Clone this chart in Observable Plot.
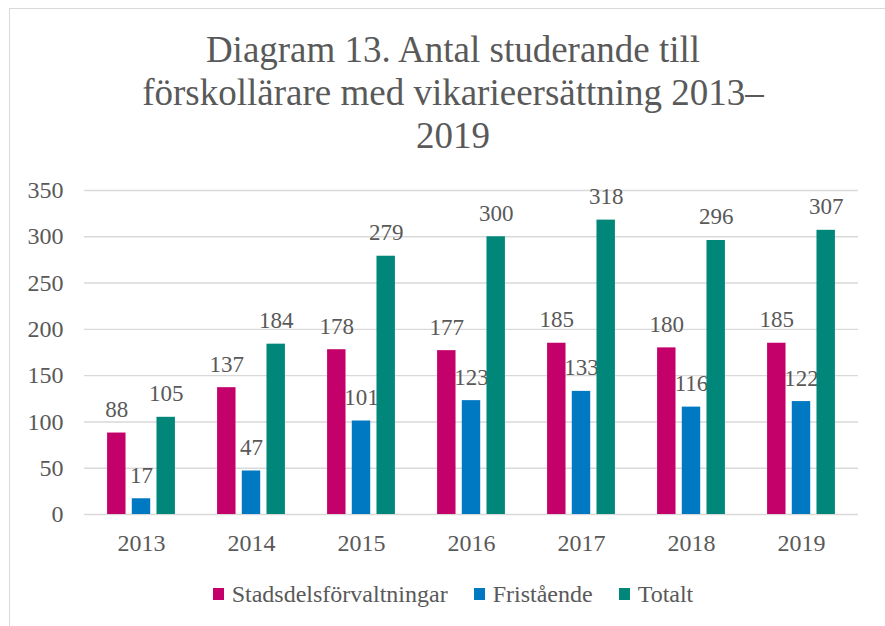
<!DOCTYPE html>
<html>
<head>
<meta charset="utf-8">
<script src="https://cdn.jsdelivr.net/npm/d3@7"></script>
<script src="https://cdn.jsdelivr.net/npm/@observablehq/plot@0.6"></script>
<style>
  html, body { margin: 0; padding: 0; background: #fff; }
  body { width: 885px; height: 626px; position: relative; overflow: hidden; color: #595959; font-family: 'Liberation Serif', serif; }
  #frame { position: absolute; left: 9px; top: 8px; width: 900px; height: 640px; border: 1px solid #D9D9D9; box-sizing: border-box; }
  #chart { position: absolute; left: 0; top: 0; }
  #title { position: absolute; left: 9px; width: 888px; top: 28px; text-align: center; font-size: 37px; line-height: 43px; color: #595959; }
  #legend { position: absolute; left: 9px; width: 888px; top: 580px; height: 28px; display: flex; justify-content: center; align-items: center; font-size: 24px; color: #595959; }
  .item { display: flex; align-items: center; margin: 0 13px; }
  .sw { width: 11px; height: 12px; margin-right: 8px; }
</style>
</head>
<body>
<div id="frame"></div>
<div id="chart"></div>
<div id="title">Diagram 13. Antal studerande till<br>förskollärare med vikarieersättning 2013–<br>2019</div>
<div id="legend"></div>
<script>
const years = ["2013", "2014", "2015", "2016", "2017", "2018", "2019"];
const seriesNames = ["Stadsdelsförvaltningar", "Fristående", "Totalt"];
const stadsdels = [88, 137, 178, 177, 185, 180, 185];
const fristaende = [17, 47, 101, 123, 133, 116, 122];
const totalt = [105, 184, 279, 300, 318, 296, 307];
const yTicks = [0, 50, 100, 150, 200, 250, 300, 350];
const colors = ["#C4006A", "#0079C2", "#00877A"];

const seriesValues = [stadsdels, fristaende, totalt];

const W = 885, H = 570;
const mL = 84, mR = 27, mT = 190, mB = 56;
const bandwidth = (W - mL - mR) / years.length;
const barW = 19, barStep = 24.7;
const inset = (bandwidth - barW) / 2;
const SERIF = "'Liberation Serif', serif";

const marks = [
  Plot.ruleY(yTicks, {stroke: "#D9D9D9", strokeWidth: 1.4})
];
seriesValues.forEach((vals, i) => {
  const rows = years.map((y, j) => ({year: y, value: vals[j]}));
  const off = (i - 1) * barStep;
  marks.push(Plot.barY(rows, {x: "year", y: "value", fill: colors[i], insetLeft: inset, insetRight: inset, dx: off}));
  marks.push(Plot.text(rows, {x: "year", y: "value", text: d => String(d.value), dx: off, dy: -16, lineAnchor: "bottom", fill: "#595959", fontSize: 23}));
});

const plot = Plot.plot({
  width: W,
  height: H,
  marginLeft: mL,
  marginRight: mR,
  marginTop: mT,
  marginBottom: mB,
  style: {fontFamily: SERIF, fontSize: "24px", color: "#595959", background: "transparent"},
  x: {domain: years, padding: 0, tickSize: 0, tickPadding: 19, label: null},
  y: {domain: [0, 350], ticks: yTicks, tickSize: 0, tickPadding: 21, label: null},
  marks
});
document.getElementById("chart").appendChild(plot);

const legend = document.getElementById("legend");
seriesNames.forEach((name, i) => {
  const item = document.createElement("div");
  item.className = "item";
  const sw = document.createElement("span");
  sw.className = "sw";
  sw.style.background = colors[i];
  const t = document.createElement("span");
  t.textContent = name;
  item.appendChild(sw);
  item.appendChild(t);
  legend.appendChild(item);
});
</script>
</body>
</html>
